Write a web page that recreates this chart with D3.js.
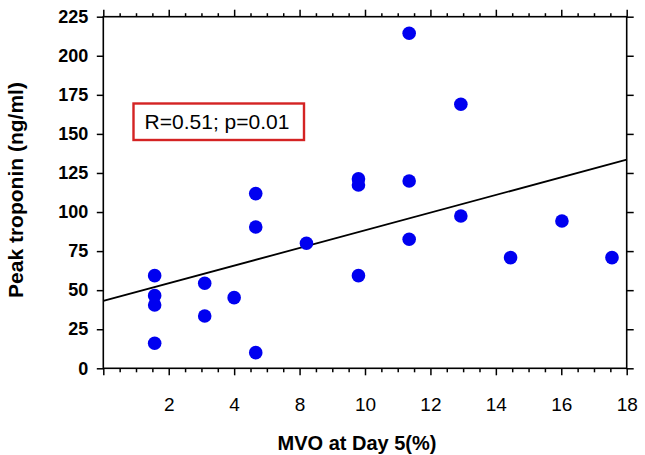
<!DOCTYPE html>
<html>
<head>
<meta charset="utf-8">
<script src="https://cdn.jsdelivr.net/npm/d3@7"></script>
<style>
  html, body { margin: 0; padding: 0; background: #fff; }
  svg { display: block; font-family: "Liberation Sans", Arial, sans-serif; }
</style>
</head>
<body>
<svg id="chart" width="645" height="455"></svg>
<script>
// ---- data (x given in axis-position units; tick labels as printed) ----
const mvoPos = [1.57, 1.57, 1.57, 1.57, 3.10, 3.10, 4.00, 4.66, 4.66, 4.66, 6.21,
                7.80, 7.80, 7.80, 9.35, 9.35, 9.35, 10.93, 10.93, 12.45, 14.02, 15.55];
const troponin = [59.3, 46.5, 40.5, 16.0, 54.4, 33.5, 45.2, 111.8, 90.4, 10.0, 80.0,
                  121.2, 117.3, 59.3, 214.4, 119.9, 82.6, 169.0, 97.5, 70.8, 94.3, 70.8];
const xTickValues = [0, 2, 4, 6, 8, 10, 12, 14, 16];
const xTickLabels = ["", "2", "4", "8", "10", "12", "14", "16", "18"];
const yTickValues = [0, 25, 50, 75, 100, 125, 150, 175, 200, 225];
const regIntercept = 43.1;
const regSlope = 5.65;
const annotation = "R=0.51; p=0.01";
const xTitle = "MVO at Day 5(%)";
const yTitle = "Peak troponin (ng/ml)";

// ---- layout ----
const svg = d3.select("#chart");
const L = 103.3, R = 626.7, T = 16.7, B = 368.3;

const x = d3.scaleLinear().domain([0, 16]).range([L, R]);
const y = d3.scaleLinear().domain([0, 225]).range([B, T]);

const minorVals = d3.range(0, 16.001, 0.5).filter(v => Math.abs(v / 2 - Math.round(v / 2)) > 1e-6);

function styleAxis(g) {
  g.select(".domain").remove();
  g.selectAll("line").attr("stroke", "#000").attr("stroke-width", 1.5);
}

// bottom axis major
svg.append("g").attr("transform", `translate(0,${B})`)
  .call(d3.axisBottom(x).tickValues(xTickValues).tickFormat((d, i) => xTickLabels[i])
    .tickSize(7).tickPadding(22))
  .call(styleAxis)
  .selectAll("text").attr("font-size", 19).attr("fill", "#000")
  .attr("font-family", '"Liberation Sans", Arial, sans-serif');
// bottom minor
svg.append("g").attr("transform", `translate(0,${B})`)
  .call(d3.axisBottom(x).tickValues(minorVals).tickFormat("").tickSize(4))
  .call(styleAxis);
// top axis major + minor
svg.append("g").attr("transform", `translate(0,${T})`)
  .call(d3.axisTop(x).tickValues(xTickValues).tickFormat("").tickSize(7))
  .call(styleAxis);
svg.append("g").attr("transform", `translate(0,${T})`)
  .call(d3.axisTop(x).tickValues(minorVals).tickFormat("").tickSize(3.5))
  .call(styleAxis);
// left axis
svg.append("g").attr("transform", `translate(${L},0)`)
  .call(d3.axisLeft(y).tickValues(yTickValues).tickFormat(d3.format("d"))
    .tickSize(6.5).tickPadding(8.5))
  .call(styleAxis)
  .selectAll("text").attr("font-size", 18).attr("font-weight", "bold").attr("fill", "#000")
  .attr("font-family", '"Liberation Sans", Arial, sans-serif');
// right axis
svg.append("g").attr("transform", `translate(${R},0)`)
  .call(d3.axisRight(y).tickValues(yTickValues).tickFormat("").tickSize(7))
  .call(styleAxis);

// frame
svg.append("rect").attr("x", L).attr("y", T).attr("width", R - L).attr("height", B - T)
  .attr("fill", "none").attr("stroke", "#000").attr("stroke-width", 1.6);

// regression line
svg.append("line")
  .attr("x1", x(0)).attr("y1", y(regIntercept + regSlope * 0))
  .attr("x2", x(16)).attr("y2", y(regIntercept + regSlope * 16))
  .attr("stroke", "#000").attr("stroke-width", 1.8);

// points
svg.append("g").selectAll("circle")
  .data(mvoPos.map((v, i) => [v, troponin[i]]))
  .join("circle")
  .attr("cx", d => x(d[0])).attr("cy", d => y(d[1]))
  .attr("r", 6.8).attr("fill", "#0000f0");

// annotation box
svg.append("rect").attr("x", 133.5).attr("y", 103.5).attr("width", 170.5).attr("height", 36.5)
  .attr("fill", "#fff").attr("stroke", "#d42323").attr("stroke-width", 2.4);
svg.append("text").attr("x", 217).attr("y", 128.7).attr("text-anchor", "middle")
  .attr("font-size", 21).attr("fill", "#000").text(annotation);

// axis titles
svg.append("text").attr("x", 357).attr("y", 450).attr("text-anchor", "middle")
  .attr("font-size", 20).attr("font-weight", "bold").attr("fill", "#000").text(xTitle);
svg.append("text").attr("transform", "translate(23,190) rotate(-90)").attr("text-anchor", "middle")
  .attr("font-size", 21).attr("font-weight", "bold").attr("fill", "#000").text(yTitle);
</script>
</body>
</html>
